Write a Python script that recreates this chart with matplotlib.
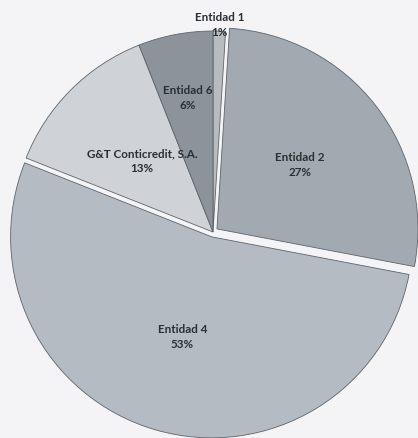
import matplotlib
matplotlib.use("Agg")
import matplotlib.pyplot as plt
import numpy as np

# data
names = ["Entidad 1", "Entidad 2", "Entidad 4", "G&T Conticredit, S.A.", "Entidad 6"]
shares = [1, 27, 53, 13, 6]

colors = ["#b8bcc1", "#a2a9b0", "#b4bbc3", "#cfd3d7", "#8c939b"]
explode = [0, 0.025, 0.025, 0, 0]
label_r = [1.03, 0.52, 0.52, 0.50, 0.68]

fig = plt.figure(figsize=(4.18, 4.38), dpi=100)
fig.patch.set_facecolor("#f4f4f6")
ax = fig.add_axes([0, 0, 1, 1])
ax.set_facecolor("#f4f4f6")

wedges, _ = ax.pie(
    shares,
    colors=colors,
    explode=explode,
    startangle=90,
    counterclock=False,
    radius=1.0,
    wedgeprops=dict(edgecolor="#5d646b", linewidth=0.6),
)

for w, name, pct, lr, ex in zip(wedges, names, shares, label_r, explode):
    ang = np.deg2rad((w.theta1 + w.theta2) / 2)
    x = (lr + ex) * np.cos(ang)
    y = (lr + ex) * np.sin(ang)
    ax.text(x, y, f"{name}\n{pct}%", ha="center", va="center",
            fontsize=8.4, fontweight="bold", family=["Lato", "DejaVu Sans"],
            color="#2b2f33", linespacing=1.4)

# pie centre and radius in pixels
r_px = 201
cx, cy = 213, 232
ax.set_aspect("equal", adjustable="datalim")
ax.set_xlim(-cx / r_px, (418 - cx) / r_px)
ax.set_ylim(-(438 - cy) / r_px, cy / r_px)
ax.axis("off")

fig.savefig("out.png", dpi=100, facecolor=fig.get_facecolor())
